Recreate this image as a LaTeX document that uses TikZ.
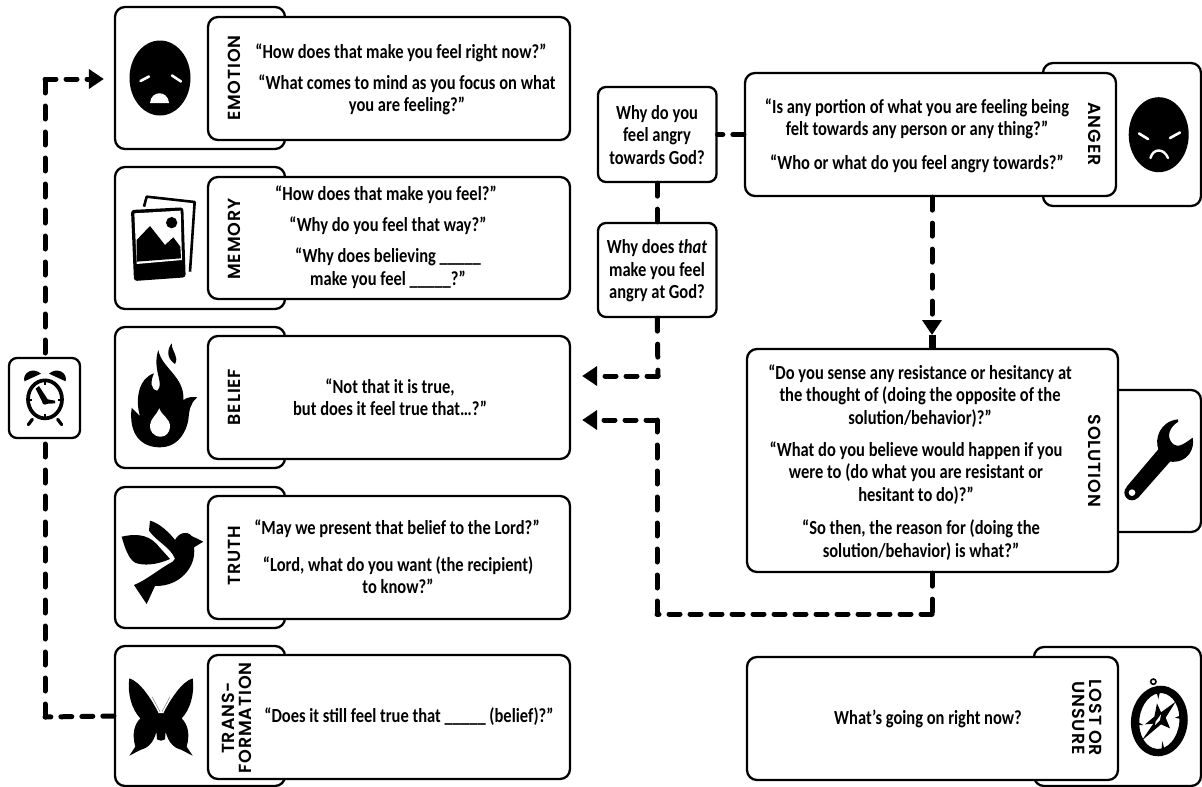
\documentclass[tikz,border=0pt]{standalone}
\usepackage{fontspec}
\usetikzlibrary{arrows.meta,calc}
\newfontfamily\bodyfam{Carlito}
\newfontfamily\labfam{Poppins SemiBold}[LetterSpace=5]
\tikzset{
  backcard/.style={draw=black,fill=white,line width=2.3pt,rounded corners=10pt,inner sep=0pt},
  frontcard/.style={backcard},
  qbox/.style={backcard,rounded corners=8pt},
  qtext/.style={font=\bodyfam\bfseries\fontsize{20}{22.5}\selectfont,align=center,inner sep=0pt,xscale=.825},
  cardlabel/.style={font=\labfam\fontsize{17.5}{17.5}\selectfont,align=center,inner sep=0pt},
  dashH/.style={line width=5pt,line cap=round,dash pattern=on 11pt off 10pt},
  dashV/.style={line width=5pt,line cap=round,dash pattern=on 13pt off 13pt},
  tipped/.style={-{Triangle[width=19pt,length=15pt,line cap=butt]}},
  whitemark/.style={draw=white,line width=2.6pt,line cap=round}
}
\newcommand{\cardat}[7]{%
  \node[#1,minimum width=#4pt-#2pt,minimum height=#5pt-#3pt] (#6) at ({(#2+#4)/2},{(#3+#5)/2}) {};}
\begin{document}
\begin{tikzpicture}[x=1pt,y=-1pt]
\useasboundingbox (0,0) rectangle (1202,787);
% back cards
\cardat{backcard}{115}{7}{285}{149}{emotionback}{}
\cardat{backcard}{115}{167}{285}{309}{memoryback}{}
\cardat{backcard}{115}{327}{285}{468}{beliefback}{}
\cardat{backcard}{115}{487}{285}{628}{truthback}{}
\cardat{backcard}{115}{646}{285}{786}{transback}{}
\cardat{backcard}{1043}{63}{1201}{206}{angerback}{}
\cardat{backcard}{1043}{390}{1201}{532}{solutionback}{}
\cardat{backcard}{1034}{647}{1201}{786}{lostback}{}
% front cards
\cardat{frontcard}{208}{17}{570}{140}{emotionq}{}
\cardat{frontcard}{208}{177}{570}{299}{memoryq}{}
\cardat{frontcard}{208}{336}{570}{459}{beliefq}{}
\cardat{frontcard}{208}{496}{570}{619}{truthq}{}
\cardat{frontcard}{208}{655}{570}{779}{transq}{}
\cardat{frontcard}{745}{73}{1116}{196}{angerq}{}
\cardat{frontcard}{747}{349}{1118}{572}{solutionq}{}
\cardat{frontcard}{747}{657}{1118}{780}{lostq}{}
\cardat{qbox}{598}{87}{716.5}{182}{whygod}{}
\cardat{qbox}{598}{223}{716.5}{317}{whythat}{}
% connector corners
\coordinate (c1) at (45,717);
\coordinate (c2) at (45,79);
\coordinate (c3) at (658,376);
\coordinate (c4) at (932,614);
\coordinate (c5) at (657,614);
\coordinate (c6) at (657,420);
\coordinate (c7) at (932,335);
% connectors
\draw[dashH] (transback.west) -- (c1);
\draw[dashV] (c1) -- (c2);
\draw[dashH,tipped,shorten >=10pt] (c2) -- (c2 -| emotionback.west);
\draw[dashH] (angerq.west |- whygod.east) -- (whygod.east);
\draw[dashV] (whygod.south) -- (whythat.north);
\draw[dashV] (whythat.south) -- (c3);
\draw[dashH,tipped,shorten >=11pt] (c3) -- (c3 -| beliefq.east);
\draw[dashV,tipped] (angerq.south -| c7) -- (c7);
\draw[line width=7pt] (c7) -- (c7 |- solutionq.north);
\draw[dashV] (c7 |- solutionq.south) -- (c4);
\draw[dashH] (c4) -- (c5);
\draw[dashV] (c5) -- (c6);
\draw[dashH,tipped,shorten >=11pt] (c6) -- (c6 -| beliefq.east);
% clock box
\cardat{qbox}{9}{358}{80}{438}{clockbox}{}
% labels
\node[cardlabel,rotate=90] (l1) at (234,78) {EMOTION};
\node[cardlabel,rotate=90] (l2) at (234,239) {MEMORY};
\node[cardlabel,rotate=90] (l3) at (234,397) {BELIEF};
\node[cardlabel,rotate=90] (l4) at (234,556) {TRUTH};
\node[cardlabel,rotate=90] (l5) at (237,718) {TRANS-\\FORMATION};
\node[cardlabel,rotate=-90] (l6) at (1095,134) {ANGER};
\node[cardlabel,rotate=-90] (l7) at (1095,461) {SOLUTION};
\node[cardlabel,rotate=-90] (l8) at (1087,718) {LOST OR\\UNSURE};
% texts
\node[qtext] (t1) at (401,53) {“How does that make you feel right now?”};
\node[qtext] (t2) at (407,95) {“What comes to mind as you focus on what\\you are feeling?”};
\node[qtext] (t3) at (386,195) {“How does that make you feel?”};
\node[qtext] (t4) at (388,226) {“Why do you feel that way?”};
\node[qtext] (t5) at (388,268) {“Why does believing \_\_\_\_\_\\make you feel \_\_\_\_\_?”};
\node[qtext] (t6) at (390,397) {“Not that it is true,\\but does it feel true that…?”};
\node[qtext] (t7) at (397,529) {“May we present that belief to the Lord?”};
\node[qtext] (t8) at (398,575) {“Lord, what do you want (the recipient)\\to know?”};
\node[qtext] (t9) at (409,717) {“Does it still feel true that \_\_\_\_\_ (belief)?”};
\node[qtext] (t10) at (657,135) {Why do you\\feel angry\\towards God?};
\node[qtext] (t11) at (657,271) {Why does \textit{that}\\make you feel\\angry at God?};
\node[qtext] (t12) at (917,119) {“Is any portion of what you are feeling being\\felt towards any person or any thing?”};
\node[qtext] (t13) at (917,164) {“Who or what do you feel angry towards?”};
\node[qtext] (t14) at (920,396) {“Do you sense any resistance or hesitancy at\\the thought of (doing the opposite of the\\solution/behavior)?”};
\node[qtext] (t15) at (916,473) {“What do you believe would happen if you\\were to (do what you are resistant or\\hesitant to do)?”};
\node[qtext] (t16) at (921,540) {“So then, the reason for (doing the\\solution/behavior) is what?”};
\node[qtext] (t17) at (928,719) {What’s going on right now?};
% --- icons ---
% sad face
\fill (160,78) ellipse [x radius=30.5,y radius=37.5];
\draw[whitemark] (140.5,81) -- (149,76.5);
\draw[whitemark] (172,75.5) -- (181,81.5);
\fill[white] (150,103) .. controls (151,90) and (168,90) .. (169,103) -- cycle;
% photos
\begin{scope}[scale=1/3]
\draw[line width=2.6pt,line join=round] (432,620) -- (440,590) -- (584,606) -- (570,815);
\fill[rounded corners=3pt] (393,630) -- (550,622) -- (557,832) -- (402,843) -- cycle;
\fill[white] (403,640) -- (542,632) -- (546,780) -- (410,792) -- cycle;
\fill (410,785) -- (410,720) -- (450,678) -- (495,735) -- (520,712) -- (541,740) -- (543,775) -- cycle;
\fill (515,668) circle (17);
\end{scope}
% flame
\begin{scope}[shift={(120,340)},scale=1/3]
\fill (120,322) .. controls (65,322) and (25,285) .. (35,203)
 .. controls (42,212) and (50,218) .. (60,228)
 .. controls (45,180) and (55,115) .. (102,100)
 .. controls (90,125) and (92,150) .. (112,152)
 .. controls (135,130) and (95,90) .. (115,30)
 .. controls (125,85) and (195,110) .. (190,180)
 .. controls (205,170) and (218,170) .. (232,172)
 .. controls (210,190) and (208,210) .. (205,240)
 .. controls (195,290) and (165,322) .. (120,322) -- cycle;
\fill[white] (122,290) .. controls (100,290) and (88,272) .. (90,255)
 .. controls (92,235) and (110,225) .. (118,205)
 .. controls (125,228) and (152,235) .. (150,262)
 .. controls (148,278) and (138,290) .. (122,290) -- cycle;
\fill (155,10) .. controls (140,30) and (140,55) .. (165,72)
 .. controls (178,50) and (155,35) .. (155,10) -- cycle;
\end{scope}
\begin{scope}[shift={(0,320)},scale=1/3]
% dove
\fill (365,650) .. controls (400,642) and (440,640) .. (470,672)
 .. controls (485,690) and (500,705) .. (510,717)
 .. controls (470,735) and (430,738) .. (405,728)
 .. controls (385,715) and (375,685) .. (365,650) -- cycle;
\fill (450,602) .. controls (480,610) and (510,640) .. (525,660)
 .. controls (535,640) and (560,630) .. (575,648)
 -- (610,665) -- (582,682)
 .. controls (590,740) and (540,800) .. (465,798)
 -- (440,852) -- (402,795)
 .. controls (440,780) and (480,745) .. (518,725)
 -- (525,716)
 .. controls (510,680) and (470,665) .. (447,632) -- cycle;
% butterfly
\foreach \sx/\off in {1/0,-1/966}{
\begin{scope}[shift={(\off,0)},xscale=\sx]
\fill (476,1180) -- (490,1180)
 .. controls (510,1140) and (545,1085) .. (578,1075)
 .. controls (585,1120) and (570,1170) .. (545,1195)
 .. controls (565,1215) and (570,1245) .. (560,1280)
 -- (578,1307) -- (545,1290)
 .. controls (525,1285) and (505,1270) .. (497,1235)
 -- (495,1258) -- (483,1262) -- cycle;
\draw[line width=.5pt,gray] (486,1175) -- (510,1130);
\end{scope}}
\end{scope}
% clock
\begin{scope}[shift={(15,362)},scale=1/3]
\draw[line width=3.7pt] (90,112) ellipse [x radius=51,y radius=57];
\fill (90,120) circle (8);
\fill (62,80) -- (72,72) -- (98,112) -- (120,116) -- (120,124) -- (85,126) -- cycle;
\draw[line width=1.7pt] (90,55) -- (90,68) (90,155) -- (90,170) (40,113) -- (52,113) (130,113) -- (143,113);
\fill (28,58) .. controls (22,30) and (55,15) .. (78,35) -- cycle;
\fill (152,58) .. controls (158,30) and (125,15) .. (102,35) -- cycle;
\draw[line width=3.2pt,line cap=round] (52,172) -- (40,188) (128,172) -- (140,188);
\end{scope}
% angry face
\fill (1158.7,134.7) ellipse [x radius=30,y radius=37.5];
\draw[whitemark] (1139,133.5) -- (1148,139);
\draw[whitemark] (1170,138) -- (1180,132.5);
\draw[white,line width=2.4pt,line cap=round] (1150.5,158) .. controls (1153,148) and (1164,148) .. (1168,158);
% wrench
\begin{scope}[shift={(1125,410)},scale=1/3]
\fill (5,230) -- (100,118) .. controls (88,85) and (105,35) .. (158,28) -- (160,35)
 .. controls (135,50) and (120,80) .. (145,103)
 .. controls (160,115) and (180,100) .. (203,83)
 .. controls (210,115) and (190,160) .. (135,155) -- (38,265) -- cycle;
\fill (21,248) circle (23);
\fill[white] (21,248) circle (10);
\end{scope}
% compass
\begin{scope}[shift={(1125,675)},scale=1/3]
\begin{scope}[shift={(103,138)},rotate=-6]
\fill[even odd rule] (0,0) ellipse [x radius=85,y radius=106] (0,0) ellipse [x radius=60,y radius=84];
\end{scope}
\draw[line width=1.6pt] (85,20) circle (8);
\fill (96,85) -- (108,112) -- (152,80) -- (122,128) -- (135,160) -- (108,148) -- (50,197) -- (85,146) -- (60,148) -- (88,125) -- cycle;
\fill[white] (92,140) -- (108,118) -- (105,135) -- (90,150) -- cycle;
\fill (95,52) -- (105,50) -- (100,72) -- cycle (165,122) -- (168,132) -- (150,128) -- cycle (110,218) -- (118,222) -- (112,198) -- cycle (36,150) -- (40,142) -- (55,150) -- cycle;
\end{scope}
\end{tikzpicture}
\end{document}
